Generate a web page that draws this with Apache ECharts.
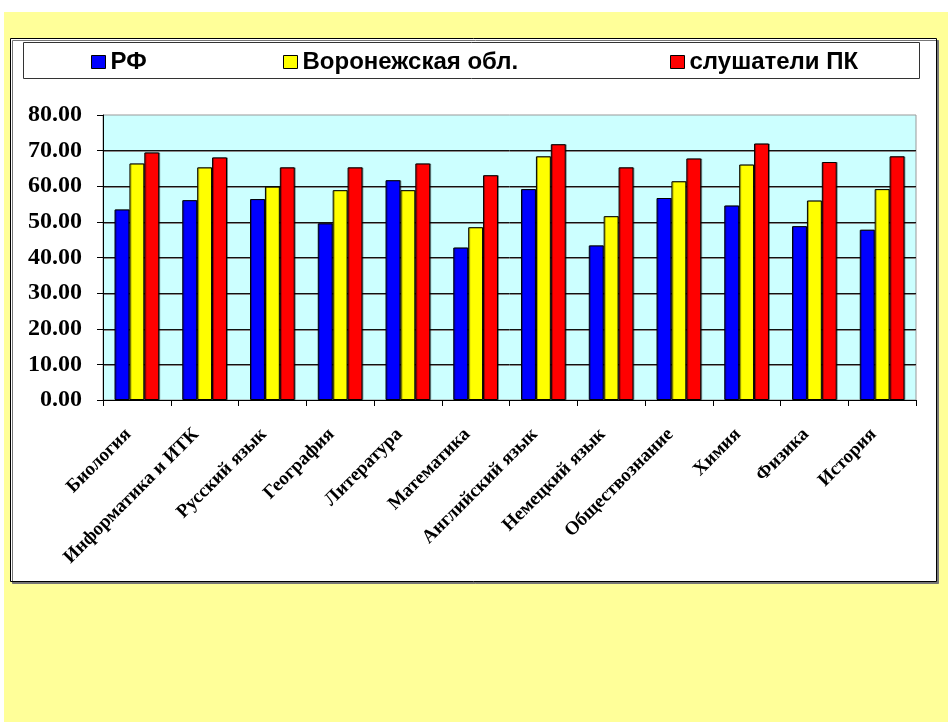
<!DOCTYPE html>
<html>
<head>
<meta charset="utf-8">
<script src="https://cdn.jsdelivr.net/npm/echarts@6/dist/echarts.min.js"></script>
<style>
  html, body { margin: 0; padding: 0; background: #fff; }
  #chart { width: 948px; height: 722px; }
</style>
</head>
<body>
<div id="chart"></div>
<script>
const categories = ['Биология', 'Информатика и ИТК', 'Русский язык', 'География', 'Литература', 'Математика',
  'Английский язык', 'Немецкий язык', 'Обществознание', 'Химия', 'Физика', 'История'];
const seriesNames = ['РФ', 'Воронежская обл.', 'слушатели ПК'];
const rfValues = [53.5, 56.1, 56.4, 49.6, 61.7, 42.8, 59.2, 43.4, 56.7, 54.6, 48.8, 47.8];
const voronezhValues = [66.4, 65.3, 59.9, 58.9, 58.9, 48.5, 68.4, 51.6, 61.4, 66.1, 56.0, 59.2];
const listenersValues = [69.5, 68.1, 65.3, 65.3, 66.4, 63.1, 71.8, 65.3, 67.8, 72.0, 66.8, 68.4];
const colors = ['#0000ff', '#ffff00', '#ff0000'];

const serifFont = '"Liberation Serif", "Times New Roman", serif';
const sansFont = '"Liberation Sans", Arial, sans-serif';

const chart = echarts.init(document.getElementById('chart'));

function legendFor(name, left) {
  return {
    data: [name],
    left: left,
    top: 50,
    padding: 0,
    itemWidth: 14,
    itemHeight: 13,
    icon: 'rect',
    itemStyle: { borderColor: '#000', borderWidth: 1 },
    textStyle: { fontFamily: sansFont, fontWeight: 'bold', fontSize: 24, color: '#000' }
  };
}

const values = [rfValues, voronezhValues, listenersValues];

const option = {
  backgroundColor: '#fff',
  animation: false,
  graphic: [
    { type: 'rect', shape: { x: 4, y: 12, width: 944, height: 710 }, style: { fill: '#ffff99' }, z: -10 },
    {
      type: 'rect', shape: { x: 10.5, y: 38.5, width: 926, height: 543 },
      style: { fill: '#fff', stroke: '#000', lineWidth: 1, shadowColor: '#777', shadowOffsetX: 2, shadowOffsetY: 2 },
      z: -9
    },
    { type: 'rect', shape: { x: 23.5, y: 42.5, width: 896, height: 36 }, style: { fill: '#fff', stroke: '#333', lineWidth: 1 }, z: -8 }
  ],
  legend: [
    legendFor(seriesNames[0], 91),
    legendFor(seriesNames[1], 283),
    legendFor(seriesNames[2], 670)
  ],
  grid: {
    left: 103,
    top: 115,
    right: 32,
    bottom: 322,
    show: true,
    backgroundColor: '#ccffff',
    borderColor: '#999',
    borderWidth: 1
  },
  xAxis: {
    type: 'category',
    data: categories,
    axisLine: { lineStyle: { color: '#000', width: 1 } },
    axisTick: { show: true, length: 6, lineStyle: { color: '#000' } },
    axisLabel: {
      interval: 0,
      rotate: 45,
      margin: 23,
      padding: [0, 12, 0, 0],
      color: '#000',
      fontFamily: serifFont,
      fontWeight: 'bold',
      fontSize: 19
    }
  },
  yAxis: {
    type: 'value',
    min: 0,
    max: 80,
    interval: 10,
    axisLine: { show: true, lineStyle: { color: '#000', width: 1 } },
    axisTick: { show: true, length: 6, lineStyle: { color: '#000' } },
    splitLine: {
      showMinLine: false,
      showMaxLine: false,
      lineStyle: { color: '#111', width: 1, shadowColor: '#888', shadowOffsetY: 1 }
    },
    axisLabel: {
      margin: 21,
      color: '#000',
      fontFamily: serifFont,
      fontWeight: 'bold',
      fontSize: 24,
      formatter: v => v.toFixed(2)
    }
  },
  series: seriesNames.map((name, i) => {
    return {
      name: name,
      type: 'bar',
      data: values[i],
      barGap: '0%',
      barCategoryGap: '34%',
      itemStyle: {
        color: colors[i],
        borderColor: '#000',
        borderWidth: 1,
        shadowColor: 'rgba(0,0,0,0.35)',
        shadowOffsetX: 1,
        shadowOffsetY: 0
      }
    };
  })
};

chart.setOption(option);
</script>
</body>
</html>
